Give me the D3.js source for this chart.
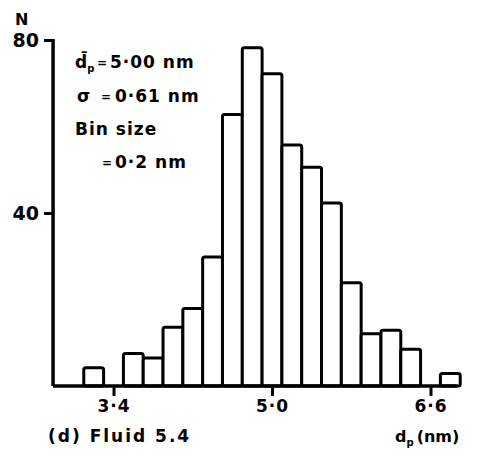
<!DOCTYPE html>
<html>
<head>
<meta charset="utf-8">
<script src="https://cdn.jsdelivr.net/npm/d3@7"></script>
<style>
  html, body { margin: 0; padding: 0; background: #fff; }
  svg { display: block; }
  text { font-family: "DejaVu Sans", sans-serif; font-weight: bold; fill: #000; }
</style>
</head>
<body>
<script>
// Bin lower edges (nm), bin width 0.2 nm
const binStarts = [3.1, 3.3, 3.5, 3.7, 3.9, 4.1, 4.3, 4.5, 4.7, 4.9, 5.1, 5.3, 5.5, 5.7, 5.9, 6.1, 6.3, 6.5, 6.7];
const counts    = [4.2, 0,   7.5, 6.5, 13.6, 17.9, 29.8, 62.8, 78.2, 72.2, 55.7, 50.6, 42.3, 23.9, 12.1, 12.9, 8.5, 0, 2.9];
const binWidth = 0.2;
const xTicks = [3.4, 5.0, 6.6];
const xTickLabels = ["3·4", "5·0", "6·6"];
const yTicks = [40, 80];
const yTickLabels = ["40", "80"];
const annotations = [
  ["d\u0304", "p", "=", "5·00 nm"],
  ["σ", "", "=", "0·61 nm"]
];

const W = 481, H = 462;
const svg = d3.select("body").append("svg").attr("width", W).attr("height", H);

const x = d3.scaleLinear().domain([3.4, 6.6]).range([113.5, 430.5]);
const y = d3.scaleLinear().domain([0, 80]).range([386, 40]);

// bars
svg.append("g").selectAll("rect")
  .data(binStarts.map((s, i) => ({ s, c: counts[i] })).filter(d => d.c > 0))
  .join("rect")
  .attr("x", d => x(d.s))
  .attr("y", d => y(d.c))
  .attr("width", d => x(d.s + binWidth) - x(d.s))
  .attr("height", d => y(0) - y(d.c))
  .attr("rx", 2)
  .attr("fill", "#fff")
  .attr("stroke", "#000")
  .attr("stroke-width", 3)
  .attr("stroke-linejoin", "round");

// x axis
const xAxis = d3.axisBottom(x).tickValues(xTicks).tickSize(10).tickSizeOuter(0)
  .tickFormat((d, i) => xTickLabels[i]);
const gx = svg.append("g").attr("transform", `translate(0,${y(0)})`).call(xAxis);
gx.select(".domain").attr("d", `M${x(2.79)},0H${x(6.87)}`).attr("stroke-width", 3.5);
gx.selectAll(".tick line").attr("stroke-width", 3);
gx.selectAll(".tick text").attr("dy", 0).attr("y", 26)
  .style("font-size", "17px").style("letter-spacing", "1px")
  .attr("font-family", null);

// y axis
const yAxis = d3.axisLeft(y).tickValues(yTicks).tickSize(9).tickSizeOuter(0)
  .tickFormat((d, i) => yTickLabels[i]);
const gy = svg.append("g").attr("transform", `translate(${x(2.79)},0)`).call(yAxis);
gy.select(".domain").attr("d", `M0,${y(80) - 1}V${y(0)}`).attr("stroke-width", 3.5);
gy.selectAll(".tick line").attr("stroke-width", 3);
gy.selectAll(".tick text").attr("x", -14).attr("dy", "0.36em")
  .style("font-size", "19px").attr("font-family", null);

svg.append("text").attr("x", 15).attr("y", 25).style("font-size", "16px").text("N");

// annotation block
const ann = svg.append("g").style("font-size", "17px");
const l1 = ann.append("text").attr("x", 75).attr("y", 68);
l1.append("tspan").text(annotations[0][0]);
l1.append("tspan").attr("dy", 4).style("font-size", "10px").text(annotations[0][1]);
ann.append("text").attr("x", 97).attr("y", 67).style("font-size", "12px").text(annotations[0][2]);
ann.append("text").attr("x", 110).attr("y", 68).style("letter-spacing", "1px").text(annotations[0][3]);

ann.append("text").attr("x", 77).attr("y", 102).text(annotations[1][0]);
ann.append("text").attr("x", 101).attr("y", 101).style("font-size", "12px").text(annotations[1][2]);
ann.append("text").attr("x", 115).attr("y", 102).style("letter-spacing", "1px").text(annotations[1][3]);

ann.append("text").attr("x", 75).attr("y", 135).style("letter-spacing", "1px").text("Bin size");
ann.append("text").attr("x", 102).attr("y", 167).style("font-size", "12px").text("=");
ann.append("text").attr("x", 115).attr("y", 168).style("letter-spacing", "1px").text("0·2 nm");

// captions
svg.append("text").attr("x", 48).attr("y", 442).style("font-size", "17px")
  .style("letter-spacing", "2px").text("(d) Fluid 5.4");
const xl = svg.append("text").attr("x", 395).attr("y", 442).style("font-size", "16px");
xl.append("tspan").text("d");
xl.append("tspan").attr("dy", 4).style("font-size", "10px").text("p");
xl.append("tspan").attr("dy", -4).attr("dx", 3).text("(nm)");
</script>
</body>
</html>
